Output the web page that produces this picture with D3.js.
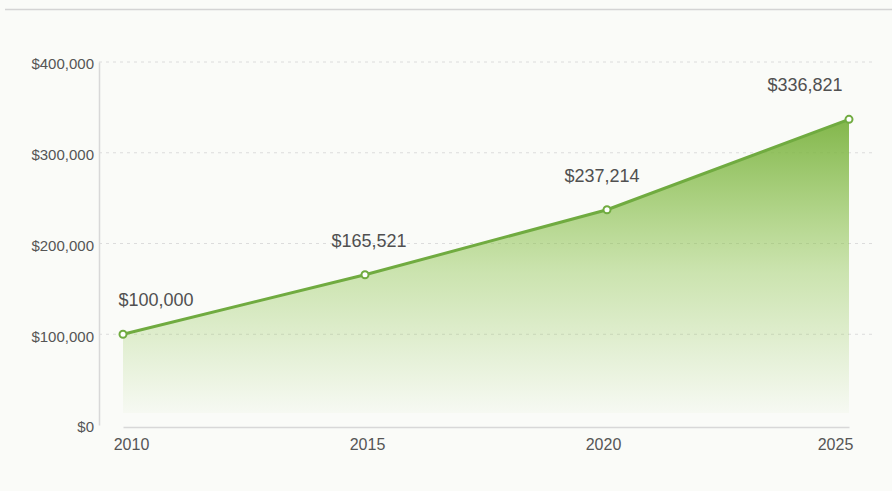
<!DOCTYPE html>
<html lang="en">
<head>
  <meta charset="UTF-8">
  <title>Growth</title>
  <style>
    body { margin: 0; background: #fafbf8; font-family: "Liberation Sans", Arial, sans-serif; }
    .grid line { stroke: #dcdcdc; stroke-dasharray: 3,4; }
    .axis text { fill: #555; }
  </style>
</head>
<body>
  <div id="chart"></div>
  <script src="https://cdn.jsdelivr.net/npm/d3@7"></script>
  <script>
    const years = [2010, 2015, 2020, 2025];
    const values = [100000, 165521, 237214, 336821];
    const yTicks = [0, 100000, 200000, 300000, 400000];
    // label shifts so the end labels stay inside the plot
    const labelShift = [33, 4, -5, -44];
    const yearShift = [8, 2, -4, -14];

    const W = 892, H = 491;
    const margin = { top: 62, right: 19, bottom: 64, left: 99 };
    const width = W - margin.left - margin.right;
    const height = H - margin.top - margin.bottom;

    const svg = d3.select("#chart").append("svg")
      .attr("width", W)
      .attr("height", H);

    // top border line
    svg.append("line")
      .attr("x1", 5).attr("x2", W)
      .attr("y1", 9.5).attr("y2", 9.5)
      .attr("stroke", "#d4d4d4").attr("stroke-width", 1.5);

    const g = svg.append("g")
      .attr("transform", `translate(${margin.left},${margin.top})`);

    const x = d3.scaleLinear().domain([2010, 2025]).range([24, 750]);
    const y = d3.scaleLinear().domain([0, 400000]).range([363, 0]);

    // grid
    g.append("g").attr("class", "grid")
      .selectAll("line")
      .data(yTicks.slice(1))
      .enter().append("line")
      .attr("x1", 0).attr("x2", width)
      .attr("y1", d => y(d)).attr("y2", d => y(d));

    const defs = svg.append("defs");
    const grad = defs.append("linearGradient")
      .attr("id", "fillGrad")
      .attr("gradientUnits", "userSpaceOnUse")
      .attr("x1", 0).attr("x2", 0)
      .attr("y1", y(d3.max(values))).attr("y2", y(0));
    grad.append("stop").attr("offset", "0%").attr("stop-color", "#7cb342").attr("stop-opacity", 0.95);
    grad.append("stop").attr("offset", "50%").attr("stop-color", "#8bc34a").attr("stop-opacity", 0.42);
    grad.append("stop").attr("offset", "100%").attr("stop-color", "#8bc34a").attr("stop-opacity", 0.0);

    const data = years.map((yr, i) => ({ year: yr, value: values[i] }));

    const area = d3.area()
      .x(d => x(d.year))
      .y0(y(0) - 12)
      .y1(d => y(d.value));

    g.append("path")
      .datum(data)
      .attr("d", area)
      .attr("fill", "url(#fillGrad)");

    const line = d3.line()
      .x(d => x(d.year))
      .y(d => y(d.value));

    g.append("path")
      .datum(data)
      .attr("d", line)
      .attr("fill", "none")
      .attr("stroke", "#70ab40")
      .attr("stroke-width", 3);

    g.selectAll(".dot")
      .data(data)
      .enter().append("circle")
      .attr("class", "dot")
      .attr("cx", d => x(d.year))
      .attr("cy", d => y(d.value))
      .attr("r", 3.5)
      .attr("fill", "#fff")
      .attr("stroke", "#70ab40")
      .attr("stroke-width", 2);

    g.selectAll(".lbl")
      .data(data)
      .enter().append("text")
      .attr("class", "lbl")
      .attr("x", (d, i) => x(d.year) + labelShift[i])
      .attr("y", d => y(d.value) - 28)
      .attr("text-anchor", "middle")
      .attr("font-size", 18)
      .attr("fill", "#505050")
      .text(d => "$" + d3.format(",")(d.value));

    // axes
    const yAxis = g.append("g").attr("class", "axis")
      .call(d3.axisLeft(y).tickValues(yTicks).tickSize(0).tickPadding(5)
        .tickFormat(d => "$" + d3.format(",")(d)));
    yAxis.select(".domain").attr("stroke", "#d8d8d8").attr("stroke-width", 1.5);
    yAxis.selectAll("text").attr("font-size", 15).attr("dy", "0.45em");

    const xAxis = g.append("g").attr("class", "axis")
      .attr("transform", `translate(0,${height})`)
      .call(d3.axisBottom(x).tickValues(years).tickSize(0).tickPadding(12)
        .tickFormat(d3.format("d")));
    xAxis.select(".domain").attr("stroke", "#d8d8d8").attr("stroke-width", 1.5);
    xAxis.selectAll("text").attr("font-size", 16)
      .attr("transform", (d, i) => `translate(${yearShift[i]},0)`);
  </script>
</body>
</html>
